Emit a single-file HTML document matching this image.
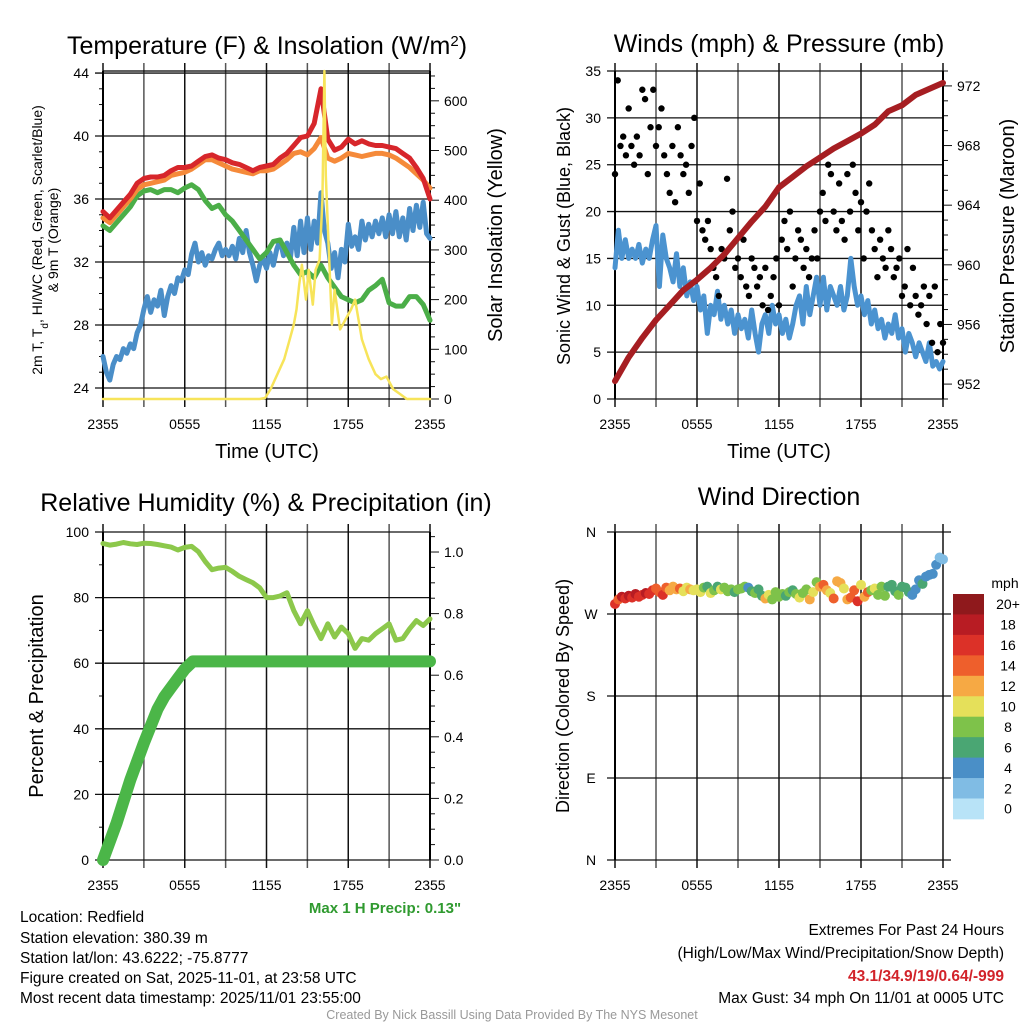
<!DOCTYPE html>
<html><head><meta charset="utf-8"><style>
html,body{margin:0;padding:0;background:#fff;}
svg{display:block;font-family:"Liberation Sans",Arial,sans-serif;}
</style></head><body>
<svg id="fig" width="1024" height="1024" viewBox="0 0 1024 1024" xmlns="http://www.w3.org/2000/svg">
<rect width="1024" height="1024" fill="#fff"/>
<text x="267" y="54" font-size="25" text-anchor="middle">Temperature (F) &amp; Insolation (W/m<tspan baseline-shift="super" font-size="15">2</tspan>)</text>
<text x="779" y="52" font-size="25" text-anchor="middle">Winds (mph) &amp; Pressure (mb)</text>
<text x="266" y="511" font-size="25" text-anchor="middle">Relative Humidity (%) &amp; Precipitation (in)</text>
<text x="779" y="505" font-size="25" text-anchor="middle">Wind Direction</text>

<text x="267" y="458" font-size="20" text-anchor="middle">Time (UTC)</text>
<text x="779" y="458" font-size="20" text-anchor="middle">Time (UTC)</text>

<text transform="translate(42,240) rotate(-90)" font-size="14" text-anchor="middle">2m T, T<tspan baseline-shift="sub" font-size="10">d</tspan>, HI/WC (Red, Green, Scarlet/Blue)</text>
<text transform="translate(58,240) rotate(-90)" font-size="14" text-anchor="middle">&amp; 9m T (Orange)</text>
<text transform="translate(502,235) rotate(-90)" font-size="20" text-anchor="middle">Solar Insolation (Yellow)</text>
<text transform="translate(570,236) rotate(-90)" font-size="18" text-anchor="middle">Sonic Wind &amp; Gust (Blue, Black)</text>
<text transform="translate(1014,236) rotate(-90)" font-size="20" text-anchor="middle">Station Pressure (Maroon)</text>
<text transform="translate(43,696) rotate(-90)" font-size="20" text-anchor="middle">Percent &amp; Precipitation</text>
<text transform="translate(569,696) rotate(-90)" font-size="18" text-anchor="middle">Direction (Colored By Speed)</text>

<text x="385" y="913" font-size="15" font-weight="bold" fill="#2f9a2f" text-anchor="middle">Max 1 H Precip: 0.13"</text>
<g font-size="15.5">
<text x="20" y="922">Location: Redfield</text>
<text x="20" y="943">Station elevation: 380.39 m</text>
<text x="20" y="963">Station lat/lon: 43.6222; -75.8777</text>
<text x="20" y="983">Figure created on Sat, 2025-11-01, at 23:58 UTC</text>
<text x="20" y="1003">Most recent data timestamp: 2025/11/01 23:55:00</text>
</g>
<g font-size="15.5" text-anchor="end">
<text x="1004" y="935">Extremes For Past 24 Hours</text>
<text x="1004" y="958">(High/Low/Max Wind/Precipitation/Snow Depth)</text>
<text x="1004" y="981" fill="#d2232a" font-weight="bold">43.1/34.9/19/0.64/-999</text>
<text x="1004" y="1003">Max Gust: 34 mph On 11/01 at 0005 UTC</text>
</g>
<text x="512" y="1019" font-size="12.5" fill="#999" text-anchor="middle">Created By Nick Bassill Using Data Provided By The NYS Mesonet</text>
</svg>
<script>
// ---------- data ----------
var xTickLabels = ["2355","0555","1155","1755","2355"];
var tempRed = [35.2,34.8,35.3,35.8,36.3,37.0,37.3,37.4,37.4,37.5,
 37.8,38.0,38.0,38.1,38.4,38.7,38.8,38.6,38.5,38.3,
 38.2,38.0,37.8,38.0,38.1,38.2,38.6,38.9,39.4,39.9,
 40.0,40.8,43.0,39.8,39.1,39.3,39.8,39.5,39.7,39.5,
 39.4,39.4,39.3,39.2,38.9,38.6,38.0,37.3,36.0];
var tempOrange = [34.8,34.5,35.0,35.5,36.0,36.6,36.9,37.0,37.1,37.2,
 37.5,37.6,37.7,37.9,38.2,38.5,38.5,38.3,38.1,37.9,
 37.8,37.7,37.6,37.8,37.8,37.9,38.2,38.5,38.9,39.0,
 38.8,39.2,39.9,38.6,38.4,38.6,38.9,38.8,38.7,38.8,
 38.9,38.9,38.8,38.6,38.3,38.0,37.6,37.2,36.7];
var dewGreen = [34.3,34.0,34.5,35.0,35.5,36.2,36.5,36.6,36.4,36.6,
 36.6,36.4,36.7,36.9,36.6,35.9,35.4,35.6,35.0,34.6,
 34.0,33.4,32.8,32.2,32.6,33.3,33.4,32.6,31.8,31.2,
 31.4,31.0,31.8,31.0,30.4,29.8,29.6,29.4,29.6,30.2,
 30.5,30.9,29.4,29.2,29.2,29.8,29.8,29.3,28.3];
var windChillBlue = [26,25,24.5,25.5,26,25.8,26.5,26.2,26.8,26.5,27.5,28,
 29,29.8,28.8,29.6,29.2,30.2,28.6,29.8,30.5,30,31,30.8,
 31.5,31.2,32.5,33.2,32,32.6,31.8,32.4,32.2,32.8,33.2,32.4,
 32.8,32.4,33,32.2,33.5,32.6,34,32.6,31.8,30.8,31.8,32.2,
 31.6,32.6,31.8,32.8,33.4,32.4,33.2,32.2,34.2,32.4,34.6,32.6,
 34.8,32.8,34.6,33.2,36.4,34,33.2,31.6,32.6,31,32.8,32,
 34.4,33,33.6,32.8,34.6,33.4,34.4,33.6,34.6,33.8,34.8,33.6,
 35,33.8,35.2,33.6,34.8,33.4,35.4,34,35.6,34.2,35.8,33.8,33.5];
var solarTimes = [0,11.5,11.9,12.3,12.8,13.3,13.7,14.0,14.2,14.4,14.6,14.9,15.1,15.4,15.6,15.9,16.1,16.25,16.35,16.5,16.8,17.0,17.4,17.8,18.2,18.5,19.0,19.5,20.0,20.4,20.8,21.3,21.8,22.3,24];
var solarValues = [0,0,2,20,50,80,120,150,180,230,270,200,260,190,260,280,400,660,450,350,150,220,140,160,180,200,120,80,50,40,45,20,10,0,0];
var windSpeed = [14,18,15,17,15,16,15,16.5,14.5,16,15,17,
 18.5,12,17.5,15,14,12.5,15.5,12,14,11,12.5,10.5,
 12,9.5,11,7,10,9,11.5,8.5,10,8,9.5,7,
 9,7.5,8.5,6.5,9.5,7,5,8,9,7,10,8,
 9,7,8.5,6.5,8,10,11,8,12,9,11,13,
 10,13,9.5,12,11,10,12,9.5,11,15,12,10,
 11,9,10.5,8,9.5,7.5,8.5,6.5,8,7,9,6.5,
 7.5,5,7,6,4.5,6,5,4,6,3.5,4,3.2,4];
var gustValues = [24,34,27,28,26,31,27,25,28,26,
 33,32,24,29,33,27,29,31,26,24,
 22,27,21,29,26,24,25,22,27,30,
 19,23,18,17,19,16,14,13,11,16,
 15,23.5,18,20,14,15,13,17,12,11,
 15,14,12,13,10,14,9.5,11,13,15,
 10,17,19,16,20,12,15,18,17,14,
 16,13,15,18,15,20,22,19,25,24,
 20,18,23,19,17,24,20,25,22,18,
 21,15,20,23,18,16,13,17,15,14,
 18,16,13,14,15,11,12,16,10,14,
 11,9,10,12,8,11,6,12,5,8,6];
var pressureValues = [952.2,953.8,955.1,956.3,957.3,958.3,959.0,959.8,960.7,961.8,962.9,963.9,965.2,965.9,966.6,967.2,967.8,968.3,968.8,969.4,970.3,970.7,971.4,971.8,972.2];
var rhValues = [96.5,96,96.3,96.8,96.4,96.2,96.6,96.5,96.2,95.8,
 95.4,94.5,95.3,95.6,94,91,88.5,89,89.2,88,
 86.5,85.5,84.5,83,80,80,80.5,81.5,76,72,
 76,71.5,67.5,72,68,71,69,64.5,67.5,67,
 69,70.5,72,67,67.5,70.5,73,71.5,73.5];
var precipTimes = [0,1,2,3,4,4.5,5,5.5,6,6.6,24];
var precipValues = [0,0.12,0.26,0.38,0.49,0.53,0.56,0.59,0.62,0.645,0.645];
var dirValues = [281,286,289,287,290,288,292,289,291,293,292,296,
 298,294,291,299,296,300,297,298,295,299,297,296,
 297,294,299,300,293,296,300,297,299,295,297,294,
 297,298,300,299,295,293,297,290,287,291,286,294,
 289,292,290,294,296,292,288,293,297,286,294,305,
 300,302,296,293,287,306,304,298,286,288,296,284,
 302,289,294,296,298,291,300,290,300,302,295,291,
 300,299,294,291,297,307,303,311,313,314,324,332,330];
var dirSpeeds = [16,14,18,17,18,16,18,17,16,18,17,16,
 15,14,16,14,12,13,12,14,11,10,12,11,
 11,10,9,6,10,8,7,10,8,8,9,7,
 8,8,9,4,7,8,6,7,12,10,8,9,
 8,9,7,8,6,8,10,9,8,13,10,8,
 12,14,12,10,15,12,12,10,13,15,14,16,
 10,12,14,9,10,8,8,9,6,7,6,8,
 6,7,6,5,5,4,6,5,4,4,4,3,3];
var speedBinLabels = ["20+","18","16","14","12","10","8","6","4","2","0"];
var speedBinColors = ["#8f191c","#b81c23","#dc3128","#ee5f2c","#f6a944","#e5e05a","#7ec24a","#4aa673","#4a8fc7","#80bce4","#b8e3f7"];

// ---------- helpers ----------
var svg = document.getElementById('fig');
var NS = 'http://www.w3.org/2000/svg';
function mk(tag, attrs, name) {
  var el = document.createElementNS(NS, tag);
  for (var k in attrs) el.setAttribute(k, attrs[k]);
  
  
  svg.appendChild(el);
  return el;
}
function txt(x, y, s, size, anchor, name) {
  var t = mk('text', {x: x, y: y, 'font-size': size, 'text-anchor': anchor}, name);
  t.textContent = s;
  return t;
}
function scale(d0, d1, r0, r1) { return function (v) { return r0 + (v - d0) / (d1 - d0) * (r1 - r0); }; }
function pathFrom(xs, ys) {
  var d = '';
  for (var i = 0; i < xs.length; i++) d += (i ? 'L' : 'M') + xs[i].toFixed(1) + ' ' + ys[i].toFixed(1);
  return d;
}
function stepTimes(n, step) { var a = []; for (var i = 0; i < n; i++) a.push(i * step); return a; }

function frame(p, prefix) {
  for (var h = 0; h <= 24; h += 3) {
    var x = p.sx(h);
    mk('line', {x1: x, y1: p.yT - 8, x2: x, y2: p.yB + 8, stroke: (h % 6 ? '#555' : '#111'), 'stroke-width': 1.5}, prefix + '-vgrid');
  }
  for (var i = 0; i < xTickLabels.length; i++) {
    txt(p.sx(i * 6), p.yB + 30, xTickLabels[i], 14, 'middle', prefix + '-x-tick-label');
  }
}

// ---------- Panel 1: temperature ----------
var p1 = {x0: 103, x1: 430, yT: 71, yB: 399};
p1.sx = scale(0, 24, p1.x0, p1.x1);
p1.sy = scale(23.3, 44.13, p1.yB, p1.yT);
p1.sr = scale(0, 660, p1.yB, p1.yT);
frame(p1, 'temp');
for (var v = 24; v <= 44; v += 1) {
  var y = p1.sy(v);
  if (v % 4 === 0) {
    mk('line', {x1: p1.x0 - 8, y1: y, x2: p1.x1, y2: y, stroke: '#111', 'stroke-width': 1.3}, 'temp-hgrid');
    txt(p1.x0 - 14, y + 5, String(v), 14, 'end', 'temp-y-tick-label');
  } else {
    mk('line', {x1: p1.x0 - 4, y1: y, x2: p1.x0, y2: y, stroke: '#111', 'stroke-width': 1}, 'temp-minor-tick');
  }
}
for (var w = 0; w <= 650; w += 25) {
  var yy = p1.sr(w);
  mk('line', {x1: p1.x1, y1: yy, x2: p1.x1 + (w % 100 ? 5 : 9), y2: yy, stroke: '#111', 'stroke-width': 1}, 'solar-tick');
  if (w % 100 === 0) txt(p1.x1 + 14, yy + 5, String(w), 14, 'start', 'solar-y-tick-label');
}
mk('line', {x1: p1.x0, y1: p1.yT, x2: p1.x0, y2: p1.yB, stroke: '#000', 'stroke-width': 2}, 'temp-left-axis');
mk('line', {x1: p1.x1, y1: p1.yT, x2: p1.x1, y2: p1.yB, stroke: '#000', 'stroke-width': 2}, 'temp-right-axis');
mk('line', {x1: p1.x0, y1: p1.yB, x2: p1.x1, y2: p1.yB, stroke: '#000', 'stroke-width': 1.3}, 'temp-bottom-axis');
mk('line', {x1: p1.x0, y1: p1.yT, x2: p1.x1, y2: p1.yT, stroke: '#000', 'stroke-width': 1.3}, 'temp-top-axis');
var t49 = stepTimes(49, 0.5), t97 = stepTimes(97, 0.25);
function series(p, times, vals, sy, color, w, name) {
  mk('path', {d: pathFrom(times.map(p.sx), vals.map(sy)), fill: 'none', stroke: color, 'stroke-width': w, 'stroke-linejoin': 'round', 'stroke-linecap': 'round'}, name);
}
series(p1, t97, windChillBlue, p1.sy, '#4a8ec8', 5, 'windchill-line');
series(p1, t49, dewGreen, p1.sy, '#4bae48', 5, 'dewpoint-line');
series(p1, t49, tempOrange, p1.sy, '#f58a3a', 5, 'temp-9m-line');
series(p1, t49, tempRed, p1.sy, '#d7262b', 5, 'temp-2m-line');
series(p1, solarTimes, solarValues, p1.sr, '#f7e45a', 2.5, 'solar-line');

// ---------- Panel 2: winds ----------
var p2 = {x0: 615, x1: 943, yT: 71, yB: 399};
p2.sx = scale(0, 24, p2.x0, p2.x1);
p2.sy = scale(0, 35, p2.yB, p2.yT);
p2.sr = scale(951, 973, p2.yB, p2.yT);
frame(p2, 'wind');
for (var s = 0; s <= 35; s += 1) {
  var y2 = p2.sy(s);
  if (s % 5 === 0) {
    mk('line', {x1: p2.x0 - 8, y1: y2, x2: p2.x1, y2: y2, stroke: '#111', 'stroke-width': 1.3}, 'wind-hgrid');
    txt(p2.x0 - 14, y2 + 5, String(s), 14, 'end', 'wind-y-tick-label');
  }
}
for (var pr = 951; pr <= 973; pr += 1) {
  var y3 = p2.sr(pr);
  mk('line', {x1: p2.x1, y1: y3, x2: p2.x1 + (pr % 4 ? 5 : 9), y2: y3, stroke: '#111', 'stroke-width': 1}, 'pressure-tick');
  if (pr % 4 === 0) txt(p2.x1 + 14, y3 + 5, String(pr), 14, 'start', 'pressure-y-tick-label');
}
mk('line', {x1: p2.x0, y1: p2.yT, x2: p2.x0, y2: p2.yB, stroke: '#000', 'stroke-width': 2}, 'wind-left-axis');
mk('line', {x1: p2.x1, y1: p2.yT, x2: p2.x1, y2: p2.yB, stroke: '#000', 'stroke-width': 2}, 'wind-right-axis');
series(p2, t97, windSpeed, p2.sy, '#4b93d0', 5, 'wind-speed-line');
var tg = stepTimes(gustValues.length, 0.2);
for (var g = 0; g < gustValues.length; g++) {
  mk('circle', {cx: p2.sx(tg[g]), cy: p2.sy(gustValues[g]), r: 3.2, fill: '#000'}, 'gust-dot');
}
series(p2, stepTimes(25, 1), pressureValues, p2.sr, '#a61e22', 6, 'pressure-line');

// ---------- Panel 3: humidity ----------
var p3 = {x0: 103, x1: 430, yT: 532, yB: 860};
p3.sx = scale(0, 24, p3.x0, p3.x1);
p3.sy = scale(0, 100, p3.yB, p3.yT);
p3.sr = scale(0, 1.065, p3.yB, p3.yT);
frame(p3, 'rh');
for (var r = 0; r <= 100; r += 10) {
  var y4 = p3.sy(r);
  if (r % 20 === 0) {
    mk('line', {x1: p3.x0 - 8, y1: y4, x2: p3.x1, y2: y4, stroke: '#111', 'stroke-width': 1.3}, 'rh-hgrid');
    txt(p3.x0 - 14, y4 + 5, String(r), 14, 'end', 'rh-y-tick-label');
  } else {
    mk('line', {x1: p3.x0 - 4, y1: y4, x2: p3.x0, y2: y4, stroke: '#111', 'stroke-width': 1}, 'rh-minor-tick');
  }
}
for (var q = 0; q <= 21; q++) {
  var pv = q * 0.05, y5 = p3.sr(pv);
  mk('line', {x1: p3.x1, y1: y5, x2: p3.x1 + (q % 4 ? 5 : 9), y2: y5, stroke: '#111', 'stroke-width': 1}, 'precip-tick');
  if (q % 4 === 0) txt(p3.x1 + 14, y5 + 5, pv.toFixed(1), 14, 'start', 'precip-y-tick-label');
}
mk('line', {x1: p3.x0, y1: p3.yT, x2: p3.x0, y2: p3.yB, stroke: '#000', 'stroke-width': 2}, 'rh-left-axis');
mk('line', {x1: p3.x1, y1: p3.yT, x2: p3.x1, y2: p3.yB, stroke: '#000', 'stroke-width': 2}, 'rh-right-axis');
series(p3, t49, rhValues, p3.sy, '#8cc84b', 5, 'rh-line');
series(p3, precipTimes, precipValues, p3.sr, '#4bb648', 12, 'precip-line');

// ---------- Panel 4: wind direction ----------
var p4 = {x0: 615, x1: 943, yT: 532, yB: 860};
p4.sx = scale(0, 24, p4.x0, p4.x1);
p4.sy = scale(0, 360, p4.yB, p4.yT);
frame(p4, 'dir');
var dirLabels = ["N","E","S","W","N"];
for (var d = 0; d < 5; d++) {
  var y6 = p4.sy(d * 90);
  mk('line', {x1: p4.x0 - 8, y1: y6, x2: p4.x1 + 8, y2: y6, stroke: '#111', 'stroke-width': 1.3}, 'dir-hgrid');
  txt(p4.x0 - 24, y6 + 5, dirLabels[d], 14, 'middle', 'dir-y-tick-label');
}
mk('line', {x1: p4.x0, y1: p4.yT, x2: p4.x0, y2: p4.yB, stroke: '#000', 'stroke-width': 2}, 'dir-left-axis');
function binColor(spd) {
  var idx = Math.min(10, Math.floor(spd / 2));
  return speedBinColors[10 - idx];
}
for (var k = 0; k < dirValues.length; k++) {
  mk('circle', {cx: p4.sx(t97[k]), cy: p4.sy(dirValues[k]), r: 5, fill: binColor(dirSpeeds[k])}, 'direction-dot');
}
txt(1005, 588, 'mph', 14, 'middle', 'colorbar-title');
var cbTop = 594, cbH = 20.45;
for (var b = 0; b < speedBinLabels.length; b++) {
  mk('rect', {x: 953, y: cbTop + b * cbH, width: 31, height: cbH + 0.4, fill: speedBinColors[b]}, 'colorbar-box');
  txt(1008, cbTop + b * cbH + cbH / 2 + 5, speedBinLabels[b], 14, 'middle', 'colorbar-label');
}
</script>
</body></html>
